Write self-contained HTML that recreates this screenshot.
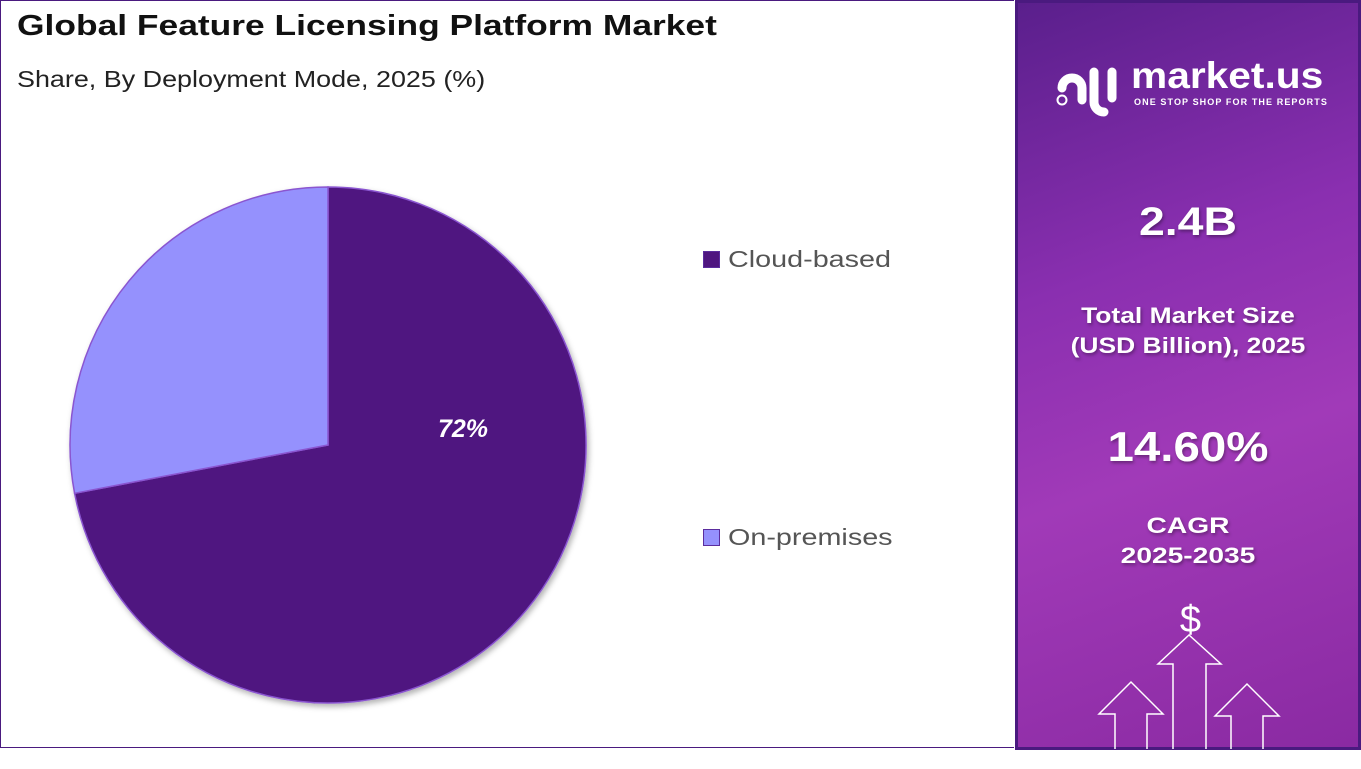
<!DOCTYPE html>
<html><head><style>
body{margin:0;width:1361px;height:769px;background:#fff;font-family:"Liberation Sans",sans-serif;position:relative;overflow:hidden}
.left{position:absolute;left:0;top:0;width:1014px;height:748px;border:1.5px solid #4a1a7f;border-right:none;box-sizing:border-box}
.t{position:absolute;left:17px;top:10px;font-size:29px;font-weight:bold;color:#111;transform:scaleX(1.22);transform-origin:left}
.s{position:absolute;left:17px;top:66px;font-size:23px;color:#222;transform:scaleX(1.17);transform-origin:left}
.lg{position:absolute;font-size:23px;color:#555}
.lg span{display:inline-block;transform:scaleX(1.25);transform-origin:left}
.lg i{display:inline-block;width:15px;height:15px;border:1.5px solid #5b2d9e;margin-right:8px;vertical-align:-1px}
.right{position:absolute;left:1015px;top:0;width:346px;height:750px;background:linear-gradient(160deg,#5a1f8c 0%,#8a2fb0 35%,#a13ab8 60%,#8a2aa2 100%);border:3px solid #4a1a7f;box-sizing:border-box;color:#fff;text-align:center}
.c{position:absolute;left:0;width:100%;font-weight:bold;text-shadow:1px 2px 3px rgba(0,0,0,.35)}
</style></head><body>
<div class="left"></div>
<div class="t">Global Feature Licensing Platform Market</div>
<div class="s">Share, By Deployment Mode, 2025 (%)</div>
<svg style="position:absolute;left:0;top:0" width="1014" height="769">
<defs><filter id="sh"><feDropShadow dx="2" dy="3" stdDeviation="3" flood-opacity="0.3"/></filter></defs>
<g filter="url(#sh)">
<path d="M328,445 L328,187 A258,258 0 1 1 74.6,493.3 Z" fill="#4f1680" stroke="#8a55d0" stroke-width="1.5"/>
<path d="M328,445 L74.6,493.3 A258,258 0 0 1 328,187 Z" fill="#9591fd" stroke="#8a55d0" stroke-width="1.5"/>
</g>
<text x="463" y="437" fill="#fff" font-size="25" font-weight="bold" font-style="italic" text-anchor="middle" font-family="Liberation Sans">72%</text>
</svg>
<div class="lg" style="left:703px;top:246px"><i style="background:#4f1680"></i><span>Cloud-based</span></div>
<div class="lg" style="left:703px;top:524px"><i style="background:#9591fd"></i><span>On-premises</span></div>
<div class="right">
<div style="position:absolute;left:38px;top:55px;width:70px;height:55px">
<svg width="70" height="60"><g fill="none" stroke="#fff" stroke-width="9" stroke-linecap="round"><path d="M6,30 a10,10 0 0 1 20,0 v12 M38,14 v30 a10,10 0 0 0 10,10 M56,14 v26"/><circle cx="6" cy="42" r="1"/></g></svg></div>
<div style="position:absolute;left:113px;top:52px;font-size:37px;font-weight:bold;transform:scaleX(1.1);transform-origin:left">market.us</div>
<div style="position:absolute;left:116px;top:94px;font-size:9px;font-weight:bold;letter-spacing:1.1px">ONE STOP SHOP FOR THE REPORTS</div>
<div class="c" style="top:197px;font-size:40px;transform:scaleX(1.16)">2.4B</div>
<div class="c" style="top:298px;font-size:22px;line-height:30px;transform:scaleX(1.2)">Total Market Size<br>(USD Billion), 2025</div>
<div class="c" style="top:420px;font-size:42px;transform:scaleX(1.13)">14.60%</div>
<div class="c" style="top:508px;font-size:22px;line-height:30px;transform:scaleX(1.28)">CAGR<br>2025-2035</div>
<div style="position:absolute;left:160px;top:596px;font-size:38px;width:25px">$</div>
</div>
<svg style="position:absolute;left:0;top:0" width="1361" height="769"><g fill="none" stroke="#fff" stroke-width="1.5">
<polyline points="1173,749 1173,664 1158,664 1189,635 1221,664 1206,664 1206,749"/>
<polyline points="1115,749 1115,714 1099,714 1131,682 1163,714 1147,714 1147,749"/>
<polyline points="1231,749 1231,716 1215,716 1247,684 1279,716 1263,716 1263,749"/>
</g></svg>
</body></html>
